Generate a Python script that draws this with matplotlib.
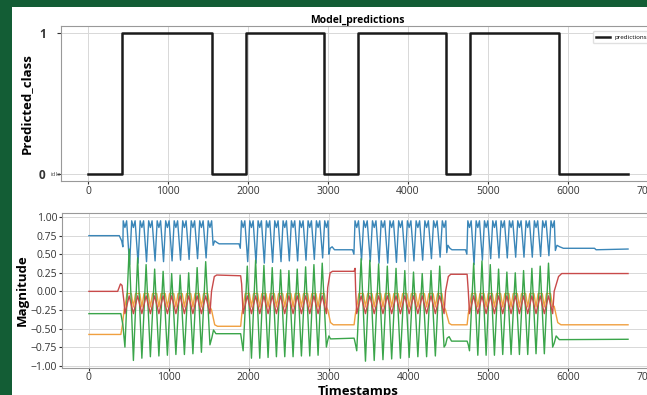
import numpy as np
import matplotlib
matplotlib.use('Agg')
import matplotlib.pyplot as plt

plt.rcParams['font.family'] = ['Open Sans', 'DejaVu Sans']

# ---------------- data ----------------
# top panel: predicted class (step changes)
pred_times = [0, 425, 1550, 1975, 2950, 3375, 4475, 4775, 5888, 6750]
pred_values = [0, 1, 0, 1, 0, 1, 0, 1, 0, 0]

# bottom panel: active segments, times of the green peaks
seg1_peaks = [504, 610, 716, 823, 929, 1036, 1142, 1249, 1355, 1462]
seg2_peaks = [1983, 2087, 2191, 2295, 2400, 2504, 2608, 2713, 2817, 2921]
seg3_peaks = [3408, 3517, 3627, 3736, 3845, 3955, 4064, 4173, 4283, 4392]
seg4_peaks = [4817, 4921, 5025, 5129, 5233, 5338, 5442, 5546, 5650, 5754]

green_hi1 = [0.57, 0.45, 0.36, 0.30, 0.27, 0.24, 0.22, 0.25, 0.32, 0.40]
green_hi2 = [0.34, 0.42, 0.35, 0.32, 0.29, 0.28, 0.30, 0.33, 0.36, 0.38]
green_hi3 = [0.44, 0.42, 0.37, 0.34, 0.31, 0.28, 0.26, 0.24, 0.28, 0.34]
green_hi4 = [0.38, 0.41, 0.36, 0.30, 0.26, 0.25, 0.28, 0.31, 0.34, 0.38]

green_lo1 = [-0.75, -0.93, -0.90, -0.88, -0.87, -0.86, -0.85, -0.85, -0.84, -0.82, -0.72]
green_lo2 = [-0.80, -0.90, -0.90, -0.89, -0.88, -0.88, -0.88, -0.87, -0.87, -0.86, -0.75]
green_lo3 = [-0.80, -0.94, -0.93, -0.92, -0.91, -0.90, -0.89, -0.88, -0.88, -0.87, -0.75]
green_lo4 = [-0.80, -0.86, -0.86, -0.86, -0.85, -0.85, -0.85, -0.85, -0.84, -0.84, -0.75]

blue_lo1 = [0.36, 0.38, 0.40, 0.41, 0.40, 0.41, 0.42, 0.43, 0.44, 0.45]
blue_lo2 = [0.40, 0.38, 0.38, 0.39, 0.40, 0.41, 0.41, 0.42, 0.43, 0.45]
blue_lo3 = [0.42, 0.40, 0.38, 0.38, 0.39, 0.40, 0.41, 0.42, 0.44, 0.46]
blue_lo4 = [0.36, 0.42, 0.44, 0.45, 0.45, 0.46, 0.46, 0.46, 0.47, 0.48]

blue_top, blue_dip = 0.95, 0.86
red_hi, red_lo = -0.06, -0.30
orange_hi, orange_lo = -0.03, -0.21

# quiet stretches (time, value)
blue_quiet = [(0, 0.75), (380, 0.75), (410, 0.68), (425, 0.60),
              (1555, 0.62), (1575, 0.68), (1600, 0.66), (1630, 0.64), (1880, 0.64), (1895, 0.58),
              (3005, 0.50), (3020, 0.58), (3045, 0.60), (3075, 0.56), (3300, 0.56), (3318, 0.50),
              (4480, 0.52), (4495, 0.62), (4520, 0.58), (4545, 0.56), (4715, 0.56), (4732, 0.50),
              (5840, 0.55), (5860, 0.62), (5895, 0.60), (5940, 0.58), (6330, 0.58), (6350, 0.56), (6750, 0.57)]
orange_quiet = [(0, -0.58), (400, -0.58), (420, -0.45), (440, -0.25),
                (1535, -0.25), (1575, -0.45), (1610, -0.47), (1900, -0.47), (1915, -0.30),
                (2990, -0.25), (3025, -0.42), (3060, -0.45), (3320, -0.45), (3337, -0.30),
                (4465, -0.25), (4510, -0.43), (4540, -0.45), (4735, -0.45), (4750, -0.30),
                (5825, -0.20), (5870, -0.42), (5910, -0.45), (6750, -0.45)]
green_quiet = [(0, -0.30), (400, -0.30), (425, -0.45),
               (1540, -0.62), (1560, -0.52), (1590, -0.57), (1900, -0.57), (1915, -0.68),
               (2990, -0.66), (3005, -0.60), (3025, -0.64), (3320, -0.63), (3335, -0.70),
               (4465, -0.72), (4485, -0.63), (4510, -0.61), (4540, -0.67), (4735, -0.67), (4750, -0.72),
               (5825, -0.70), (5850, -0.60), (5890, -0.65), (6750, -0.645)]
red_quiet = [(0, 0.0), (360, 0.0), (395, 0.10), (415, 0.08), (440, -0.15),
             (1535, 0.0), (1570, 0.20), (1600, 0.22), (1900, 0.21), (1912, 0.10),
             (2990, 0.05), (3020, 0.25), (3050, 0.27), (3320, 0.27), (3332, 0.31), (3340, 0.0),
             (4465, 0.0), (4500, 0.20), (4530, 0.23), (4735, 0.23), (4750, 0.0),
             (5825, 0.0), (5880, 0.20), (5920, 0.24), (6750, 0.24)]

segments = [
    (seg1_peaks, green_hi1, green_lo1, blue_lo1),
    (seg2_peaks, green_hi2, green_lo2, blue_lo2),
    (seg3_peaks, green_hi3, green_lo3, blue_lo3),
    (seg4_peaks, green_hi4, green_lo4, blue_lo4),
]


def active(peaks, ghi, glo, blo):
    peaks = np.asarray(peaks, float)
    P = np.diff(peaks).mean()
    edges = np.concatenate([[peaks[0] - P / 2], (peaks[:-1] + peaks[1:]) / 2, [peaks[-1] + P / 2]])
    g, b, r, o = [], [], [], []
    for i, e in enumerate(edges):
        g.append((e, glo[i]))
        b += [(e - 0.2 * P, blue_top), (e, blue_dip), (e + 0.2 * P, blue_top)]
        r.append((e, red_lo))
        o.append((e, orange_lo))
    for i, p in enumerate(peaks):
        g.append((p, ghi[i]))
        b.append((p + 0.05 * P, blo[i]))
        r.append((p, red_hi))
        o += [(p - 0.25 * P, orange_hi), (p + 0.25 * P, orange_hi)]
    return g, b, r, o


series = {'blue': list(blue_quiet), 'orange': list(orange_quiet),
          'green': list(green_quiet), 'red': list(red_quiet)}
for seg in segments:
    g, b, r, o = active(*seg)
    series['green'] += g
    series['blue'] += b
    series['red'] += r
    series['orange'] += o

# ---------------- figure ----------------
fig = plt.figure(figsize=(6.47, 3.95), dpi=100, facecolor='#135d35')
bg = fig.add_axes([12 / 647, 0, 1, (395 - 7) / 395], zorder=-10)
bg.set_facecolor('white')
bg.set_xticks([])
bg.set_yticks([])
for s in bg.spines.values():
    s.set_visible(False)

xlim = (-337, 7075)
ax1 = fig.add_axes([61 / 647, 1 - 181 / 395, (654 - 61) / 647, (181 - 26) / 395])
ax2 = fig.add_axes([62 / 647, 1 - 367.5 / 395, (654 - 62) / 647, (367.5 - 213) / 395])

ax1.plot(pred_times, pred_values, drawstyle='steps-post', color='#1a1a1a', lw=1.8, label='predictions')
ax1.set_xlim(*xlim)
ax1.set_ylim(-0.05, 1.05)
ax1.set_yticks([0, 1])
ax1.set_yticklabels(['0', '1'], fontsize=8.5, fontweight='bold')
ax1.text(-0.0185, 0.045, 'idle', transform=ax1.transAxes, fontsize=4.5, color='#555555',
         ha='left', va='center')
ax1.set_ylabel('Predicted_class', fontsize=9.5, fontweight='bold', labelpad=4.5)
ax1.set_title('Model_predictions', fontsize=7.5, fontweight='bold', pad=2.5)
ax1.legend(loc='upper right', fontsize=4.5, handlelength=2.2, borderpad=0.5,
           bbox_to_anchor=(0.999, 0.985), frameon=True, framealpha=0.9, edgecolor='#dddddd')

colors = {'blue': '#3a86b8', 'orange': '#f0a040', 'green': '#3aa54a', 'red': '#c84a4a'}
for name in ['blue', 'orange', 'green', 'red']:
    pts = sorted(series[name])
    t = [p[0] for p in pts]
    v = [p[1] for p in pts]
    ax2.plot(t, v, color=colors[name], lw=1.0)
ax2.set_xlim(*xlim)
ax2.set_ylim(-1.025, 1.055)
ax2.set_yticks(np.arange(-1.0, 1.01, 0.25))
ax2.set_ylabel('Magnitude', fontsize=9.5, fontweight='bold', labelpad=1)
ax2.set_xlabel('Timestamps', fontsize=9.5, fontweight='bold', labelpad=1)

for ax in (ax1, ax2):
    ax.set_xticks([0, 1000, 2000, 3000, 4000, 5000, 6000, 7000])
    ax.grid(True, color='#d8d8d8', lw=0.7)
    ax.set_axisbelow(True)
    ax.tick_params(axis='x', labelsize=7.5, colors='#333333', length=2, pad=1.5)
    for s in ax.spines.values():
        s.set_color('#999999')
        s.set_linewidth(0.8)
ax2.tick_params(axis='y', labelsize=7.5, colors='#333333', length=2, pad=1.5)
ax1.tick_params(axis='y', colors='#333333', length=3, pad=8)

fig.savefig('out.png', dpi=100, facecolor=fig.get_facecolor())
